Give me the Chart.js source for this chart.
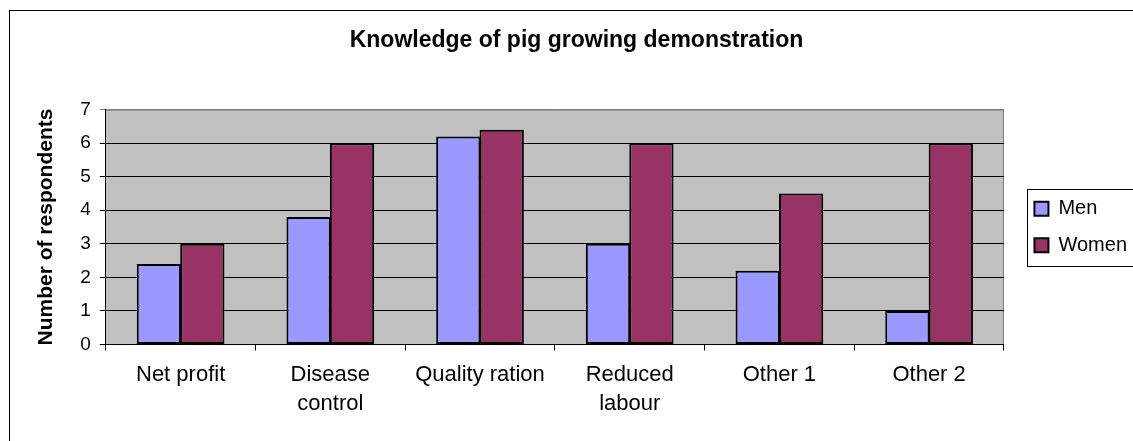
<!DOCTYPE html>
<html>
<head>
<meta charset="utf-8">
<script src="https://cdn.jsdelivr.net/npm/chart.js@4.4.1/dist/chart.umd.min.js"></script>
<style>
  html, body { margin: 0; padding: 0; background: #fff; }
  #wrap { width: 1133px; height: 441px; }
</style>
</head>
<body>
<div id="wrap"><canvas id="chart" width="1133" height="441"></canvas></div>
<script>
// Chart values
const categories = ["Net profit", ["Disease", "control"], "Quality ration", ["Reduced", "labour"], "Other 1", "Other 2"];
const menValues = [2.4, 3.8, 6.2, 3.0, 2.2, 1.0];
const womenValues = [3.0, 6.0, 6.4, 6.0, 4.5, 6.0];
const seriesLabels = ["Men", "Women"];
const yMin = 0;
const yMax = 7;
const yStep = 1;

const FONT = "'Liberation Sans', Arial, sans-serif";

// Grey plot area, outer frame and legend box
const frame = {
  id: "frame",
  afterLayout(chart) {
    // keep the legend next to the plot, vertically centred on it
    const a = chart.chartArea;
    const lg = chart.legend;
    const w = lg.width;
    lg.left = a.right + 14;
    lg.right = lg.left + w;
    lg.top = a.top;
    lg.bottom = a.bottom;
    lg.height = a.bottom - a.top;
  },
  beforeDraw(chart) {
    const { ctx, chartArea: a } = chart;
    ctx.save();
    ctx.fillStyle = "#c0c0c0";
    ctx.fillRect(a.left, a.top, a.right - a.left, a.bottom - a.top);
    ctx.strokeStyle = "#808080";
    ctx.lineWidth = 1;
    ctx.beginPath();
    ctx.moveTo(a.left, a.top + 0.5);
    ctx.lineTo(a.right - 0.5, a.top + 0.5);
    ctx.lineTo(a.right - 0.5, a.bottom);
    ctx.stroke();
    ctx.restore();
  },
  afterDraw(chart) {
    const { ctx, chartArea: a } = chart;
    ctx.save();
    ctx.strokeStyle = "#000";
    ctx.lineWidth = 1;
    ctx.strokeRect(9.5, 10.5, 3000, 3000);
    const mid = (a.top + a.bottom) / 2;
    ctx.strokeRect(Math.round(a.right + 23) + 0.5, Math.round(mid - 38) + 0.5, 300, 77);
    ctx.restore();
  },
};

new Chart(document.getElementById("chart"), {
  type: "bar",
  data: {
    labels: categories,
    datasets: [
      {
        label: seriesLabels[0],
        data: menValues,
        backgroundColor: "#9999ff",
        borderColor: "#000",
        borderWidth: 2,
        borderSkipped: false,
        inflateAmount: 0,
      },
      {
        label: seriesLabels[1],
        data: womenValues,
        backgroundColor: "#993366",
        borderColor: "#000",
        borderWidth: 2,
        borderSkipped: false,
        inflateAmount: 0,
      },
    ],
  },
  options: {
    responsive: false,
    animation: false,
    devicePixelRatio: 1,
    categoryPercentage: 0.58,
    barPercentage: 1.02,
    layout: { padding: { left: 30, right: 10, top: 0, bottom: 12 } },
    scales: {
      x: {
        offset: true,
        grid: {
          offset: true,
          drawOnChartArea: false,
          drawTicks: true,
          tickLength: 6,
          color: "#000",
        },
        border: { color: "#000", width: 1 },
        ticks: {
          color: "#000",
          padding: 10,
          maxRotation: 0,
          autoSkip: false,
          font: { family: FONT, size: 22, lineHeight: 1.33 },
        },
      },
      y: {
        min: yMin,
        max: yMax,
        grid: {
          color: (c) => (c.tick && c.tick.value === yMax ? "#808080" : "#000"),
          tickLength: 6,
          lineWidth: 1,
        },
        border: { color: "#000", width: 1 },
        ticks: {
          stepSize: yStep,
          color: "#000",
          padding: 9,
          font: { family: FONT, size: 19 },
        },
        title: {
          display: true,
          text: "Number of respondents",
          color: "#000",
          padding: { top: 4, bottom: 12 },
          font: { family: FONT, size: 21, weight: "bold" },
        },
      },
    },
    plugins: {
      title: {
        display: true,
        text: "Knowledge of pig growing demonstration",
        color: "#000",
        padding: { top: 27, bottom: 55 },
        font: { family: FONT, size: 23, weight: "bold" },
      },
      legend: {
        position: "right",
        align: "center",
        labels: {
          color: "#000",
          boxWidth: 14,
          boxHeight: 14,
          padding: 16.5,
          font: { family: FONT, size: 20 },
        },
      },
      tooltip: { enabled: false },
    },
  },
  plugins: [frame],
});
</script>
</body>
</html>
